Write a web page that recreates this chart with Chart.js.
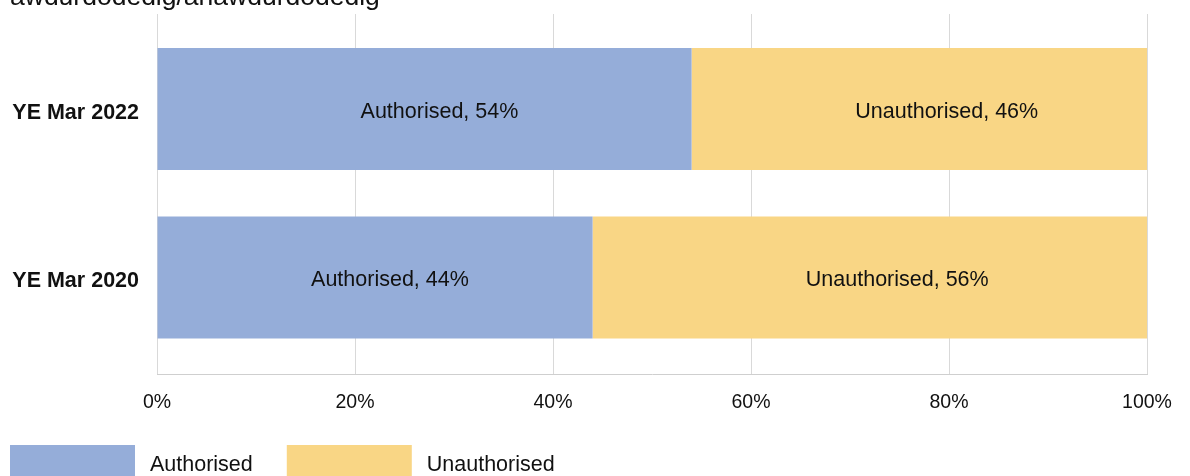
<!DOCTYPE html>
<html>
<head>
<meta charset="utf-8">
<script src="https://cdn.jsdelivr.net/npm/chart.js@4/dist/chart.umd.min.js"></script>
<style>
  html, body { margin: 0; padding: 0; background: #fff; overflow: hidden; }
  #wrap { position: relative; width: 1190px; height: 476px; }
</style>
</head>
<body>
<div id="wrap"><canvas id="c" width="1190" height="476"></canvas></div>
<script>
// ---- data ----
const titleText = "awdurdodedig/anawdurdodedig";
const categories = ["YE Mar 2022", "YE Mar 2020"];
const seriesNames = ["Authorised", "Unauthorised"];
const authorised = [54, 44];
const unauthorised = [46, 56];
const xTicks = [0, 20, 40, 60, 80, 100];
const colors = ["#95ADD9", "#F9D685"];

const FONT = "'Liberation Sans', Arial, Helvetica, sans-serif";

const seriesValues = [authorised, unauthorised];
const datasets = seriesNames.map((name, s) => ({
  label: name,
  data: seriesValues[s].map((v, i) => ({ x: v, y: i })),
  backgroundColor: colors[s],
  borderWidth: 0,
  categoryPercentage: 0.8,
  barPercentage: 0.905
}));

const titlePlugin = {
  id: 'cutTitle',
  afterDraw(chart) {
    const ctx = chart.ctx;
    ctx.save();
    ctx.font = "26.5px " + FONT;
    ctx.fillStyle = "#111";
    ctx.textAlign = "left";
    ctx.textBaseline = "alphabetic";
    ctx.fillText(titleText, 10, 5);
    ctx.restore();
  }
};

const barLabelPlugin = {
  id: 'barLabels',
  afterDatasetsDraw(chart) {
    const ctx = chart.ctx;
    ctx.save();
    ctx.font = "21.5px " + FONT;
    ctx.fillStyle = "#111";
    ctx.textAlign = "left";
    ctx.textBaseline = "middle";
    chart.data.datasets.forEach((ds, di) => {
      const meta = chart.getDatasetMeta(di);
      meta.data.forEach((el, i) => {
        const cx = (el.x + el.base) / 2;
        ctx.fillText(ds.label + ", " + ds.data[i].x + "%", cx - 64, el.y + 3);
      });
    });
    ctx.restore();
  }
};

const legendPlugin = {
  id: 'bottomLegend',
  afterDraw(chart) {
    const ctx = chart.ctx;
    ctx.save();
    ctx.font = "21.5px " + FONT;
    ctx.textBaseline = "middle";
    ctx.textAlign = "left";
    let x = 10;
    const top = 445;
    chart.data.datasets.forEach(ds => {
      ctx.fillStyle = ds.backgroundColor;
      ctx.fillRect(x, top, 125, 40);
      x += 125 + 15;
      ctx.fillStyle = "#111";
      ctx.fillText(ds.label, x, 465);
      x += ctx.measureText(ds.label).width + 34;
    });
    ctx.restore();
  }
};

new Chart(document.getElementById('c'), {
  type: 'bar',
  data: { datasets },
  plugins: [titlePlugin, barLabelPlugin, legendPlugin],
  options: {
    indexAxis: 'y',
    responsive: false,
    animation: false,
    devicePixelRatio: 1,
    layout: { padding: { top: 14, left: 10, right: 43, bottom: 62 } },
    plugins: {
      legend: { display: false },
      title: { display: false },
      tooltip: { enabled: false }
    },
    scales: {
      x: {
        type: 'linear',
        stacked: true,
        min: 0,
        max: 100,
        afterBuildTicks: s => { s.ticks = xTicks.map(v => ({ value: v })); },
        afterFit: s => { s.height = 40; s.paddingLeft = 0; s.paddingRight = 0; },
        ticks: {
          callback: v => v + '%',
          font: { family: FONT, size: 19.5 },
          color: '#111',
          padding: 17,
          maxRotation: 0
        },
        grid: { color: '#D9D9D9', lineWidth: 1, drawTicks: false },
        border: { color: '#CFCFCF', width: 1 }
      },
      y: {
        type: 'linear',
        stacked: true,
        reverse: true,
        offset: false,
        bounds: 'data',
        min: -0.564,
        max: 1.573,
        afterBuildTicks: s => { s.ticks = categories.map((c, i) => ({ value: i })); },
        afterFit: s => { s.width = 147; s.paddingTop = 0; s.paddingBottom = 0; },
        ticks: {
          callback: v => categories[v],
          font: { family: FONT, size: 21.5, weight: 'bold' },
          color: '#111',
          padding: 18,
          labelOffset: 4
        },
        grid: { display: false, drawTicks: false, offset: false },
        border: { display: false }
      }
    }
  }
});
</script>
</body>
</html>
